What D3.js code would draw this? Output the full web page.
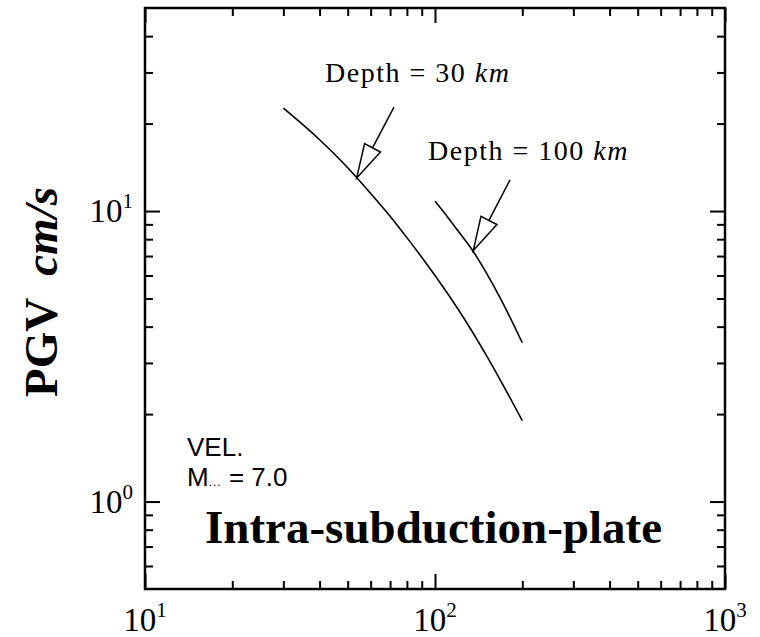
<!DOCTYPE html>
<html>
<head>
<meta charset="utf-8">
<script src="https://cdn.jsdelivr.net/npm/d3@7/dist/d3.min.js"></script>
<style>
  body { margin: 0; background: #fff; }
  text { fill: #000; }
</style>
</head>
<body>
<svg id="chart" width="760" height="637"></svg>
<script>
// values (distance km, PGV cm/s)
const distance30 = [30, 40, 50, 60, 70, 80, 100, 120, 150, 200];
const pgv30 = [22.6, 17.6, 14.1, 11.5, 9.6, 8.1, 6.0, 4.6, 3.2, 1.9];
const distance100 = [100, 110, 120, 135, 150, 170, 200];
const pgv100 = [10.8, 9.6, 8.55, 7.3, 6.15, 4.9, 3.52];

// arrow annotations: [distance, pgv] for tail and tip
const arrowTails = [[72.2, 22.8], [181.4, 12.8]];
const arrowTips = [[53.7, 13.0], [135.5, 7.31]];

const xMajor = [10, 100, 1000];
const xMinor = [20, 30, 40, 50, 60, 70, 80, 90, 200, 300, 400, 500, 600, 700, 800, 900];
const yMajor = [1, 10];
const yMinor = [0.6, 0.7, 0.8, 0.9, 2, 3, 4, 5, 6, 7, 8, 9, 20, 30, 40];
const exponents = new Map([[1, '0'], [10, '1'], [100, '2'], [1000, '3']]);

const serif = '"Liberation Serif", "Times New Roman", serif';
const sans = '"Liberation Sans", Arial, sans-serif';

const svg = d3.select('#chart');
const plotL = 145, plotR = 725, plotT = 8, plotB = 589;

const x = d3.scaleLog().domain([10, 1000]).range([plotL, plotR]);
const y = d3.scaleLog().domain([0.5, 50]).range([plotB, plotT]);

// ticks, all pointing inward
function ticks(axisFn, scale, values, size, pos) {
  svg.append('g')
    .attr('transform', pos)
    .call(axisFn(scale).tickValues(values).tickSize(size).tickFormat(''))
    .call(g => g.select('.domain').remove())
    .call(g => g.selectAll('line').attr('stroke', '#000').attr('stroke-width', 2));
}
ticks(d3.axisBottom, x, xMajor, -15, `translate(0,${plotB})`);
ticks(d3.axisBottom, x, xMinor, -8, `translate(0,${plotB})`);
ticks(d3.axisTop, x, xMajor, -15, `translate(0,${plotT})`);
ticks(d3.axisTop, x, xMinor, -8, `translate(0,${plotT})`);
ticks(d3.axisLeft, y, yMajor, -15, `translate(${plotL},0)`);
ticks(d3.axisLeft, y, yMinor, -8, `translate(${plotL},0)`);
ticks(d3.axisRight, y, yMajor, -15, `translate(${plotR},0)`);
ticks(d3.axisRight, y, yMinor, -8, `translate(${plotR},0)`);

svg.append('rect')
  .attr('x', plotL).attr('y', plotT)
  .attr('width', plotR - plotL).attr('height', plotB - plotT)
  .attr('fill', 'none').attr('stroke', '#000').attr('stroke-width', 2.5);

// tick labels 10^n
function powerLabel(sel) {
  sel.append('tspan').text('10');
  sel.append('tspan').attr('font-size', 21).attr('dy', -14).text(d => exponents.get(d));
}
svg.selectAll('.xlab').data(xMajor).join('text')
  .attr('class', 'xlab')
  .attr('x', d => x(d)).attr('y', 631)
  .attr('text-anchor', 'middle')
  .attr('font-family', serif).attr('font-size', 33)
  .call(powerLabel);
svg.selectAll('.ylab').data(yMajor).join('text')
  .attr('class', 'ylab')
  .attr('x', 133).attr('y', d => y(d) + 11)
  .attr('text-anchor', 'end')
  .attr('font-family', serif).attr('font-size', 33)
  .call(powerLabel);

// y axis title
const yTitle = svg.append('text')
  .attr('transform', 'translate(57,397) rotate(-90)')
  .attr('font-family', serif).attr('font-size', 47).attr('font-weight', 'bold');
yTitle.append('tspan').text('PGV');
yTitle.append('tspan').attr('dx', 22).attr('font-style', 'italic').text('cm/s');

// curves
const line = d3.line()
  .x(d => x(d[0]))
  .y(d => y(d[1]))
  .curve(d3.curveMonotoneX);
const curves = [d3.zip(distance30, pgv30), d3.zip(distance100, pgv100)];
svg.selectAll('.curve').data(curves).join('path')
  .attr('class', 'curve')
  .attr('d', line)
  .attr('fill', 'none').attr('stroke', '#000').attr('stroke-width', 1.6);

// open-triangle arrows
arrowTips.forEach((tip, i) => {
  const tx = x(tip[0]), ty = y(tip[1]);
  const sx = x(arrowTails[i][0]), sy = y(arrowTails[i][1]);
  const len = Math.hypot(sx - tx, sy - ty);
  const ux = (sx - tx) / len, uy = (sy - ty) / len;
  const hl = 34, hw = 9;
  const bx = tx + ux * hl, by = ty + uy * hl;
  svg.append('line')
    .attr('x1', sx).attr('y1', sy).attr('x2', bx).attr('y2', by)
    .attr('stroke', '#000').attr('stroke-width', 1.5);
  svg.append('path')
    .attr('d', `M${tx},${ty}L${bx - uy * hw},${by + ux * hw}L${bx + uy * hw},${by - ux * hw}Z`)
    .attr('fill', '#fff').attr('stroke', '#000').attr('stroke-width', 1.5)
    .attr('stroke-linejoin', 'miter');
});

// depth labels
function depthLabel(px, py, value) {
  const t = svg.append('text')
    .attr('x', px).attr('y', py)
    .attr('font-family', serif).attr('font-size', 28)
    .attr('letter-spacing', 1.5);
  t.append('tspan').text(`Depth = ${value} `);
  t.append('tspan').attr('font-style', 'italic').text('km');
}
depthLabel(325, 82, 30);
depthLabel(428, 160, 100);

// inner labels
svg.append('text')
  .attr('x', 187).attr('y', 456)
  .attr('font-family', sans).attr('font-size', 26)
  .text('VEL.');
const mLabel = svg.append('text')
  .attr('x', 187).attr('y', 486)
  .attr('font-family', sans).attr('font-size', 26);
mLabel.append('tspan').text('M');
mLabel.append('tspan').attr('font-size', 12).attr('letter-spacing', 1).text('...');
mLabel.append('tspan').text(' = 7.0');

svg.append('text')
  .attr('x', 205).attr('y', 543)
  .attr('font-family', serif).attr('font-size', 47).attr('font-weight', 'bold')
  .text('Intra-subduction-plate');
</script>
</body>
</html>
